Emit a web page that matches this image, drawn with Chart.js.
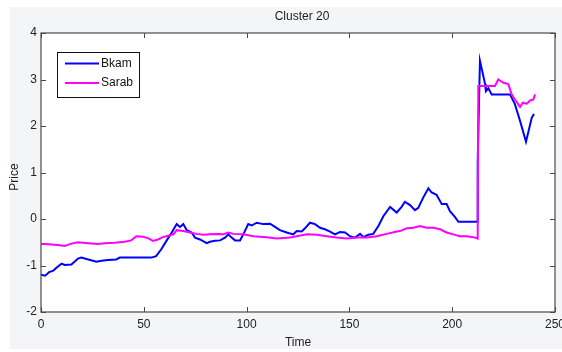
<!DOCTYPE html>
<html>
<head>
<meta charset="utf-8">
<script src="https://cdn.jsdelivr.net/npm/chart.js@4/dist/chart.umd.min.js"></script>
<style>
  html, body { margin: 0; padding: 0; background: #ffffff; }
  #wrap { position: relative; width: 562px; height: 352px; }
  canvas { display: block; }
</style>
</head>
<body>
<div id="wrap"><canvas id="c" width="562" height="352"></canvas></div>
<script>
// Price series for cluster 20
const chartTitle = 'Cluster 20';
const xTitle = 'Time';
const yTitle = 'Price';
const seriesNames = ['Bkam', 'Sarab'];
const seriesColors = ['#0000ff', '#ff00ff'];

const bkamTime = [0, 2, 4, 6, 7.5, 10, 11.5, 14.8, 18, 19.6, 23, 27, 29.3, 32.6, 36.6, 38.3, 53.7, 56, 58.5, 61,
  63.6, 66, 67.6, 69.2, 70.9, 73.3, 74.9, 77.3, 80.6, 82.2, 84.6, 87.1, 89.5, 91.1, 92.7, 94.4, 96.8, 98.4,
  100.8, 102.5, 104.9, 108.1, 111.4, 113.8, 116.2, 119.5, 122.7, 124.4, 126.8, 128.4, 130.8, 133.3, 135.7,
  138.1, 140.6, 143, 145.4, 147.9, 150.3, 152.7, 155.2, 156.8, 159.2, 161.6, 164.1, 166.5, 169.8, 173, 175.4,
  177, 179.5, 181.9, 183.5, 185.9, 188.4, 190, 192.4, 194.9, 197.3, 198.9, 201.4, 203, 212.2, 212.4, 212.6,
  213.5, 216, 216.4, 217.6, 219.2, 228.1, 230.5, 233, 235.9, 238.7, 239.8];
const bkamPrice = [-1.20, -1.22, -1.14, -1.11, -1.05, -0.96, -0.99, -0.98, -0.85, -0.83, -0.87, -0.92, -0.90, -0.88,
  -0.87, -0.83, -0.83, -0.80, -0.65, -0.47, -0.29, -0.11, -0.17, -0.11, -0.24, -0.29, -0.40, -0.44, -0.52, -0.49,
  -0.47, -0.46, -0.40, -0.33, -0.40, -0.46, -0.46, -0.33, -0.11, -0.14, -0.08, -0.11, -0.10, -0.17, -0.24, -0.29,
  -0.33, -0.26, -0.27, -0.20, -0.08, -0.11, -0.19, -0.22, -0.27, -0.33, -0.28, -0.29, -0.37, -0.40, -0.32, -0.39,
  -0.34, -0.32, -0.15, 0.06, 0.26, 0.14, 0.26, 0.37, 0.30, 0.19, 0.24, 0.46, 0.66, 0.57, 0.52, 0.32, 0.32, 0.17,
  0.04, -0.06, -0.06, 1.20, 1.68, 3.40, 2.90, 2.75, 2.81, 2.68, 2.68, 2.47, 2.11, 1.66, 2.18, 2.26];

const sarabTime = [0, 2, 8.3, 11.5, 14.8, 18, 22.9, 27.7, 31, 35.8, 40.7, 43.9, 46.4, 49.6, 52, 54.5, 56.9, 59.3,
  61.8, 64.4, 66, 69.2, 72.5, 75.7, 78.9, 82.2, 85.5, 88.7, 91.1, 93.5, 98.4, 103.3, 109.8, 114.6, 121.1, 124.4,
  129.2, 134.1, 139, 143.8, 148.7, 153.6, 158.4, 163.3, 168.1, 173, 174.6, 177.9, 181.1, 184.3, 187.6, 190.8,
  194.1, 197.3, 200.5, 203.8, 207.1, 210.3, 212.4, 212.7, 220.8, 222.4, 224.9, 227.3, 228.9, 230.5, 233, 234.3,
  236.3, 237.9, 239.5, 240.3];
const sarabPrice = [-0.54, -0.54, -0.56, -0.58, -0.53, -0.50, -0.52, -0.54, -0.52, -0.51, -0.49, -0.46, -0.37, -0.38,
  -0.41, -0.47, -0.44, -0.39, -0.36, -0.33, -0.24, -0.26, -0.29, -0.32, -0.34, -0.33, -0.32, -0.33, -0.29, -0.32,
  -0.33, -0.37, -0.39, -0.42, -0.40, -0.37, -0.33, -0.34, -0.37, -0.40, -0.42, -0.40, -0.40, -0.37, -0.32, -0.27,
  -0.26, -0.20, -0.19, -0.15, -0.19, -0.19, -0.22, -0.29, -0.33, -0.37, -0.37, -0.39, -0.42, 2.86, 2.86, 3.00,
  2.93, 2.90, 2.68, 2.57, 2.41, 2.50, 2.48, 2.55, 2.57, 2.68];

const xMin = 0, xMax = 250, xStep = 50;
const yMin = -2, yMax = 4, yStep = 1;

const FONT = "'Liberation Sans', Arial, sans-serif";
const FONT_SIZE = 12;

function toPoints(xs, ys) {
  return xs.map((x, i) => ({ x: x, y: ys[i] }));
}

// Figure background, framed axes with inward ticks, titles and the legend box
const figurePlugin = {
  id: 'figure',
  beforeDraw(chart) {
    const ctx = chart.ctx;
    const a = chart.chartArea;
    ctx.save();
    ctx.fillStyle = '#ffffff';
    ctx.fillRect(0, 0, chart.width, chart.height);
    ctx.fillStyle = '#f4f5f7';
    ctx.fillRect(10, 7, chart.width - 10, 342);
    ctx.fillStyle = '#ffffff';
    ctx.fillRect(a.left, a.top, a.right - a.left, a.bottom - a.top);
    ctx.restore();
  },
  afterDatasetsDraw(chart) {
    const ctx = chart.ctx;
    const a = chart.chartArea;
    const xs = chart.scales.x, ys = chart.scales.y;
    ctx.save();
    ctx.strokeStyle = '#4a4a4a';
    ctx.lineWidth = 1.2;
    ctx.strokeRect(a.left, a.top, a.right - a.left, a.bottom - a.top);
    const tl = 5;
    ctx.beginPath();
    xs.ticks.forEach(t => {
      const px = Math.round(xs.getPixelForValue(t.value)) + 0.5;
      ctx.moveTo(px, a.bottom); ctx.lineTo(px, a.bottom - tl);
      ctx.moveTo(px, a.top); ctx.lineTo(px, a.top + tl);
    });
    ys.ticks.forEach(t => {
      const py = Math.round(ys.getPixelForValue(t.value)) + 0.5;
      ctx.moveTo(a.left, py); ctx.lineTo(a.left + tl, py);
      ctx.moveTo(a.right, py); ctx.lineTo(a.right - tl, py);
    });
    ctx.lineWidth = 1;
    ctx.stroke();

    // titles
    ctx.fillStyle = '#222222';
    ctx.font = FONT_SIZE + 'px ' + FONT;
    ctx.textAlign = 'center';
    ctx.textBaseline = 'middle';
    ctx.fillText(chartTitle, 302, 17);
    ctx.fillText(xTitle, 298, 343);
    ctx.save();
    ctx.translate(15, 177);
    ctx.rotate(-Math.PI / 2);
    ctx.fillText(yTitle, 0, 0);
    ctx.restore();

    // legend
    const lx = 57.5, ly = 52.5, lw = 82, lh = 45;
    ctx.fillStyle = '#ffffff';
    ctx.fillRect(lx, ly, lw, lh);
    ctx.strokeStyle = '#111111';
    ctx.lineWidth = 1;
    ctx.strokeRect(lx, ly, lw, lh);
    chart.data.datasets.forEach((ds, i) => {
      const yy = 63.5 + i * 19.5;
      ctx.strokeStyle = ds.borderColor;
      ctx.lineWidth = 2;
      ctx.beginPath();
      ctx.moveTo(65, yy); ctx.lineTo(99, yy);
      ctx.stroke();
      ctx.fillStyle = '#111111';
      ctx.font = FONT_SIZE + 'px ' + FONT;
      ctx.textAlign = 'left';
      ctx.textBaseline = 'middle';
      ctx.fillText(ds.label, 101, yy);
    });
    ctx.restore();
  }
};

new Chart(document.getElementById('c'), {
  type: 'line',
  data: {
    datasets: [
      { label: seriesNames[0], data: toPoints(bkamTime, bkamPrice), borderColor: seriesColors[0],
        backgroundColor: seriesColors[0], borderWidth: 2, pointRadius: 0, tension: 0, order: 2 },
      { label: seriesNames[1], data: toPoints(sarabTime, sarabPrice), borderColor: seriesColors[1],
        backgroundColor: seriesColors[1], borderWidth: 2, pointRadius: 0, tension: 0, order: 1 }
    ]
  },
  options: {
    responsive: false,
    animation: false,
    events: [],
    layout: { autoPadding: false, padding: { left: 0, top: 33, right: 7, bottom: 0 } },
    plugins: { legend: { display: false }, title: { display: false }, tooltip: { enabled: false } },
    scales: {
      x: {
        type: 'linear', min: xMin, max: xMax,
        afterFit(s) { s.height = 40; s.paddingLeft = 0; s.paddingRight = 0; },
        grid: { display: false, drawTicks: false },
        border: { display: false },
        ticks: { stepSize: xStep, padding: 5, color: '#222222', font: { family: FONT, size: FONT_SIZE }, maxRotation: 0 }
      },
      y: {
        type: 'linear', min: yMin, max: yMax,
        afterFit(s) { s.width = 41; s.paddingTop = 0; s.paddingBottom = 0; },
        grid: { display: false, drawTicks: false },
        border: { display: false },
        ticks: { stepSize: yStep, padding: 4, color: '#222222', font: { family: FONT, size: FONT_SIZE } }
      }
    }
  },
  plugins: [figurePlugin]
});
</script>
</body>
</html>
